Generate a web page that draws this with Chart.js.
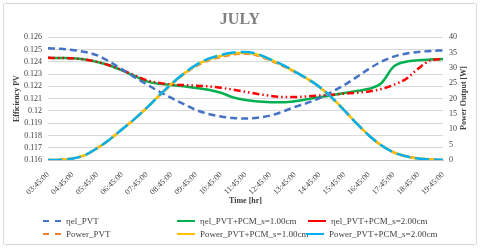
<!DOCTYPE html>
<html>
<head>
<meta charset="utf-8">
<script src="https://cdn.jsdelivr.net/npm/chart.js@4.4.1/dist/chart.umd.min.js"></script>
<style>
    html, body { margin: 0; padding: 0; background: #fff; }
    #wrap { position: relative; width: 480px; height: 248px; font-family: "Liberation Serif", "Times New Roman", serif; }
    #chart_canvas { position: absolute; left: 0; top: 0; }
    #frame { position: absolute; left: 3px; top: 3px; width: 472px; height: 240px; border: 1px solid #d9d9d9; border-radius: 2px; pointer-events: none; }
    #rightTitle { position: absolute; left: 463px; top: 98px; transform: translate(-50%, -50%) rotate(-90deg); font-size: 8px; font-weight: bold; color: #404040; white-space: nowrap; }
    .lg { position: absolute; font-size: 9px; color: #404040; white-space: nowrap; line-height: 10px; }
    .sym { position: absolute; height: 0; }
</style>
</head>
<body>
<div id="wrap">
    <canvas id="chart_canvas" width="480" height="248"></canvas>
    <div id="frame"></div>
    <div id="rightTitle">Power Output [W]</div>
    <div id="legend"></div>
</div>
<script>
// time axis: hours after 03:45, half-hour steps
var timeOffset = [0, 0.5, 1, 1.5, 2, 2.5, 3, 3.5, 4, 4.5, 5, 5.5, 6, 6.5, 7, 7.5, 8,
                  8.5, 9, 9.5, 10, 10.5, 11, 11.5, 12, 12.5, 13, 13.5, 14, 14.5, 15, 15.5, 16];
var xTickLabels = ['03:45:00', '04:45:00', '05:45:00', '06:45:00', '07:45:00', '08:45:00',
                   '09:45:00', '10:45:00', '11:45:00', '12:45:00', '13:45:00', '14:45:00',
                   '15:45:00', '16:45:00', '17:45:00', '18:45:00', '19:45:00'];

var etaPVT = [0.1251, 0.12505, 0.12495, 0.1248, 0.12452, 0.1240, 0.12338, 0.12275, 0.12215,
              0.12158, 0.12105, 0.12055, 0.12007, 0.11975, 0.11955, 0.11942, 0.11938,
              0.11944, 0.11962, 0.11993, 0.12032, 0.12065, 0.12105, 0.12155, 0.1221,
              0.12275, 0.12343, 0.124, 0.12442, 0.12466, 0.1248, 0.12488, 0.12492];
var etaPCM1 = [0.12432, 0.1243, 0.12428, 0.12418, 0.12398, 0.1237, 0.1233, 0.12285, 0.1224,
               0.1222, 0.12211, 0.122, 0.12186, 0.12172, 0.12148, 0.1211, 0.12088,
               0.12076, 0.12071, 0.1207, 0.12078, 0.12095, 0.12112, 0.12128, 0.12145,
               0.12162, 0.1218, 0.12225, 0.1236, 0.124, 0.12412, 0.12418, 0.12423];
var etaPCM2 = [0.12432, 0.1243, 0.12428, 0.12418, 0.12398, 0.1237, 0.12332, 0.1229, 0.1225,
               0.12228, 0.12214, 0.1221, 0.12205, 0.122, 0.12188, 0.12172, 0.12155,
               0.12138, 0.12123, 0.12114, 0.12113, 0.12118, 0.12125, 0.12132, 0.1214,
               0.12148, 0.12158, 0.12178, 0.12212, 0.1226, 0.12345, 0.12412, 0.12423];
var powerPVT = [0, 0.1, 0.5, 1.6, 3.9, 6.7, 10, 13.3, 17, 20.9, 24.6, 27.9, 30.6, 32.5, 33.6,
                34.4, 34.6, 34.0, 32.4, 30.7, 28.6, 26.4, 23.7, 20.2, 16.2, 11.9, 8, 4.8,
                2.5, 1.2, 0.5, 0.2, 0];
var powerPCM1 = [0, 0.1, 0.5, 1.6, 3.9, 6.7, 10, 13.3, 17, 21, 24.8, 28.1, 30.9, 32.8, 33.9,
                 34.7, 34.9, 34.3, 32.7, 30.9, 28.8, 26.5, 23.8, 20.3, 16.2, 11.9, 8, 4.8,
                 2.5, 1.2, 0.5, 0.2, 0];
var powerPCM2 = [0, 0.1, 0.5, 1.6, 3.9, 6.7, 10, 13.3, 17, 21, 24.8, 28.2, 31, 33, 34.2,
                 35, 35.2, 34.5, 32.8, 31, 28.8, 26.5, 23.8, 20.3, 16.2, 11.9, 8, 4.8,
                 2.5, 1.2, 0.5, 0.2, 0];

function points(values) {
    var out = [];
    for (var i = 0; i < values.length; i++) {
        out.push({ x: timeOffset[i], y: values[i] });
    }
    return out;
}

function line(label, values, color, dash, axis, order) {
    return {
        label: label,
        data: points(values),
        yAxisID: axis,
        borderColor: color,
        backgroundColor: color,
        borderWidth: 2.5,
        borderDash: dash,
        borderCapStyle: 'butt',
        pointRadius: 0,
        fill: false,
        cubicInterpolationMode: 'monotone',
        order: order
    };
}

var series = [
    line('ηel_PVT', etaPVT, '#4472C4', [7, 4], 'y', 3),
    line('ηel_PVT+PCM_s=1.00cm', etaPCM1, '#00B050', [], 'y', 5),
    line('ηel_PVT+PCM_s=2.00cm', etaPCM2, '#FF0000', [7, 3, 1.5, 3, 1.5, 3], 'y', 4),
    line('Power_PVT', powerPVT, '#ED7D31', [6, 4], 'y1', 2),
    line('Power_PVT+PCM_s=1.00cm', powerPCM1, '#FFC000', [], 'y1', 1),
    line('Power_PVT+PCM_s=2.00cm', powerPCM2, '#00B0F0', [14, 5], 'y1', 0)
];
var legendDashed = [true, false, false, true, false, false];

Chart.defaults.font.family = '"Liberation Serif", "Times New Roman", serif';
Chart.defaults.color = '#404040';

var lineChart = new Chart(document.getElementById('chart_canvas'), {
    type: 'line',
    data: { datasets: series },
    options: {
        responsive: false,
        animation: false,
        layout: { padding: { left: 0, right: 0, top: 0, bottom: 40 } },
        plugins: {
            legend: { display: false },
            tooltip: { enabled: false },
            title: {
                display: true,
                text: 'JULY',
                color: '#7f7f7f',
                font: { size: 16, weight: 'bold' },
                padding: { top: 10, bottom: 8 }
            }
        },
        scales: {
            x: {
                type: 'linear',
                min: 0,
                max: 16,
                grid: { display: false },
                border: { color: '#bfbfbf' },
                ticks: {
                    stepSize: 1,
                    autoSkip: false,
                    maxRotation: 45,
                    minRotation: 45,
                    padding: 2,
                    font: { size: 8 },
                    callback: function(v) { return xTickLabels[Math.round(v)]; }
                },
                title: {
                    display: true,
                    text: 'Time [hr]',
                    font: { size: 8, weight: 'bold' },
                    padding: { top: 0, bottom: 2 }
                },
                afterFit: function(scale) { scale.height = 48; }
            },
            y: {
                position: 'left',
                min: 0.116,
                max: 0.126,
                grid: { color: '#d9d9d9', drawTicks: false },
                border: { display: false },
                ticks: {
                    stepSize: 0.001,
                    autoSkip: false,
                    padding: 6,
                    font: { size: 8 },
                    callback: function(v) { return String(Number(v.toFixed(3))); }
                },
                title: {
                    display: true,
                    text: 'Efficiency PV',
                    font: { size: 8, weight: 'bold' },
                    padding: { top: 12, bottom: 0 }
                },
                afterFit: function(scale) { scale.width = 48; }
            },
            y1: {
                position: 'right',
                min: 0,
                max: 40,
                grid: { display: false, drawTicks: false },
                border: { display: false },
                ticks: {
                    stepSize: 5,
                    autoSkip: false,
                    padding: 6,
                    font: { size: 8 }
                },
                afterFit: function(scale) { scale.width = 37; }
            }
        }
    }
});

// legend laid out like the spreadsheet one: 3 columns, 2 rows
var legendPos = [[43, 221], [177, 221], [308, 221], [43, 234], [177, 234], [306, 234]];
var legendBox = document.getElementById('legend');
series.forEach(function(ds, i) {
    var p = legendPos[i];
    var sym = document.createElement('div');
    sym.className = 'sym';
    sym.style.left = p[0] + 'px';
    sym.style.top = (p[1] - 1) + 'px';
    sym.style.width = '18px';
    sym.style.borderTop = '2.5px ' + (legendDashed[i] ? 'dashed ' : 'solid ') + ds.borderColor;
    legendBox.appendChild(sym);
    var txt = document.createElement('div');
    txt.className = 'lg';
    txt.style.left = (p[0] + 23) + 'px';
    txt.style.top = (p[1] - 5) + 'px';
    txt.textContent = ds.label;
    legendBox.appendChild(txt);
});
</script>
</body>
</html>
